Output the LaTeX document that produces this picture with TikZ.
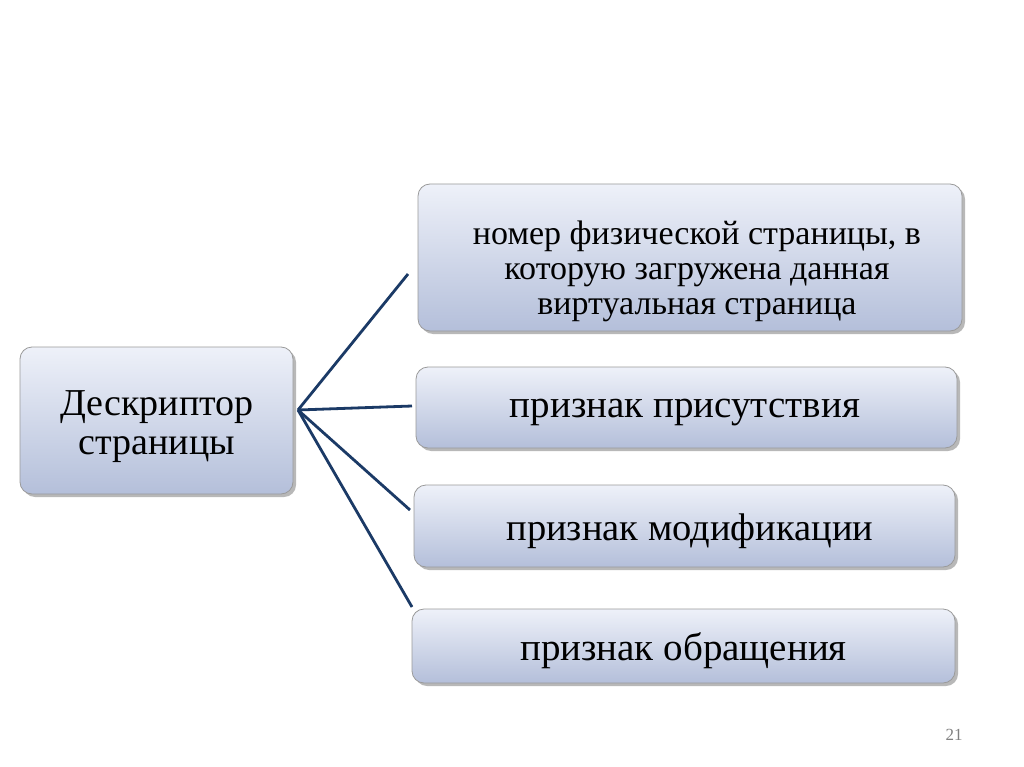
\documentclass[tikz,border=0pt]{standalone}
\usepackage{fontspec}
\setmainfont{Liberation Serif}
\usetikzlibrary{shadows}
\definecolor{boxtop}{HTML}{EEF1F9}
\definecolor{boxbot}{HTML}{B4BFDA}
\definecolor{boxline}{HTML}{9A9A9A}
\definecolor{conn}{HTML}{1B3A66}
\begin{document}
\begin{tikzpicture}[x=1pt,y=-1pt,
  box/.style={draw=boxline, line width=0.8pt, rounded corners=12pt, top color=boxtop, bottom color=boxbot,
    drop shadow={shadow xshift=3pt, shadow yshift=-3pt, fill=black, opacity=0.28},
    inner sep=0pt},
  lbl/.style={align=center, text=black, inner sep=0pt},
  link/.style={draw=conn, line width=2.8pt}]
\useasboundingbox (0,0) rectangle (1024,767);
\fill[white] (0,0) rectangle (1024,767);
\node[box, minimum width=273pt, minimum height=147pt] (root) at (156.5,420.5) {};
\node[lbl, font=\fontsize{38}{39}\selectfont] (roott) at (157,427) {Дескриптор\\страницы};
\node[box, minimum width=544pt, minimum height=147pt] (b1) at (690,257.5) {};
\node[lbl, font=\fontsize{34}{35}\selectfont] (b1t) at (697,271) {номер физической страницы, в\\которую загружена данная\\виртуальная страница};
\node[box, minimum width=541pt, minimum height=81pt] (b2) at (686.5,407.5) {};
\node[lbl, font=\fontsize{39}{40}\selectfont] (b2t) at (685,413) {признак присутствия};
\node[box, minimum width=541pt, minimum height=82pt] (b3) at (684.5,526) {};
\node[lbl, font=\fontsize{38.5}{40}\selectfont] (b3t) at (690,531) {признак модификации};
\node[box, minimum width=543pt, minimum height=74pt] (b4) at (683.5,646) {};
\node[lbl, font=\fontsize{39}{40}\selectfont] (b4t) at (683.5,651) {признак обращения};
\coordinate (hub) at (298,410);
\coordinate (e1) at (408,274);
\coordinate (e2) at (412,406);
\coordinate (e3) at (410,510);
\coordinate (e4) at (412,607);
\draw[link] (hub) -- (e1);
\draw[link] (hub) -- (e2);
\draw[link] (hub) -- (e3);
\draw[link] (hub) -- (e4);
\node[text=gray, font=\fontsize{17}{18}\selectfont] (pg) at (954,735) {21};
\end{tikzpicture}
\end{document}
